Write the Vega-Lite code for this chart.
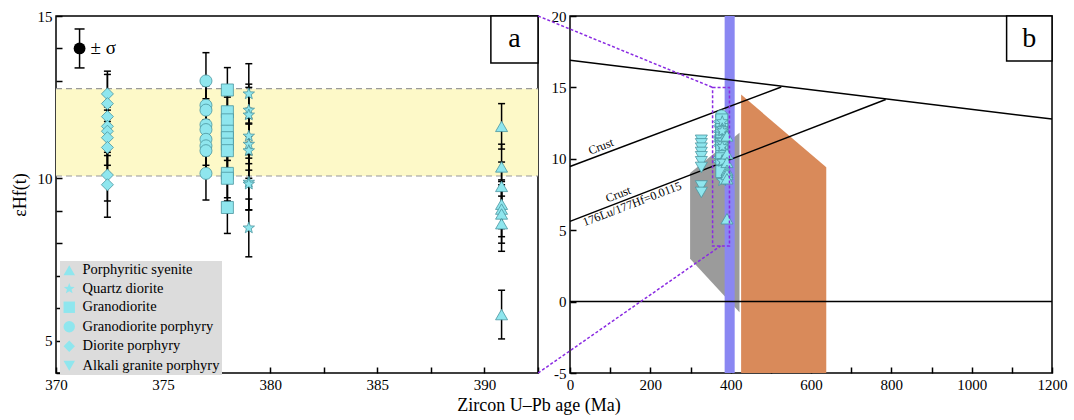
{
  "$schema": "https://vega.github.io/schema/vega-lite/v6.json",
  "background": "white",
  "padding": {"left": 10, "top": 8, "right": 5, "bottom": 5},
  "config": {
    "font": "Liberation Serif",
    "view": {"stroke": "black", "strokeWidth": 1.5},
    "axis": {
      "domain": false, "tickColor": "black", "tickWidth": 1.5, "tickSize": 6, "offset": -6,
      "labelFont": "Liberation Serif", "labelFontSize": 15, "labelColor": "black",
      "titleFont": "Liberation Serif", "titleFontSize": 18, "titleFontWeight": "normal", "titleColor": "black",
      "grid": false, "labelFlush": false, "labelOverlap": false, "labelPadding": 4
    },
    "legend": {
      "labelFont": "Liberation Serif", "labelFontSize": 14.5, "labelColor": "black",
      "symbolFillColor": "#8fe6ee", "symbolStrokeColor": "#4a95a0", "symbolStrokeWidth": 0.8, "symbolSize": 130,
      "fillColor": "#dcdcdc", "padding": 2, "rowPadding": 3.5, "labelOffset": 6
    }
  },
  "datasets": {
    "zircon": [
      {"rock": "Diorite porphyry", "age": 372.4, "ehf": 12.6, "lo": 11.9, "hi": 13.3},
      {"rock": "Diorite porphyry", "age": 372.4, "ehf": 12.3, "lo": 11.4, "hi": 13.2},
      {"rock": "Diorite porphyry", "age": 372.4, "ehf": 11.9, "lo": 11.2, "hi": 12.6},
      {"rock": "Diorite porphyry", "age": 372.4, "ehf": 11.6, "lo": 10.9, "hi": 12.3},
      {"rock": "Diorite porphyry", "age": 372.4, "ehf": 11.45, "lo": 10.7, "hi": 12.2},
      {"rock": "Diorite porphyry", "age": 372.4, "ehf": 11.25, "lo": 10.4, "hi": 12.1},
      {"rock": "Diorite porphyry", "age": 372.4, "ehf": 10.95, "lo": 10.15, "hi": 11.75},
      {"rock": "Diorite porphyry", "age": 372.4, "ehf": 10.1, "lo": 9.3, "hi": 10.9},
      {"rock": "Diorite porphyry", "age": 372.4, "ehf": 9.8, "lo": 8.8, "hi": 10.8},
      {"rock": "Granodiorite porphyry", "age": 377.0, "ehf": 13.0, "lo": 12.13, "hi": 13.87},
      {"rock": "Granodiorite porphyry", "age": 377.0, "ehf": 12.25, "lo": 11.45, "hi": 13.05},
      {"rock": "Granodiorite porphyry", "age": 377.0, "ehf": 12.1, "lo": 11.35, "hi": 12.85},
      {"rock": "Granodiorite porphyry", "age": 377.0, "ehf": 11.65, "lo": 10.85, "hi": 12.45},
      {"rock": "Granodiorite porphyry", "age": 377.0, "ehf": 11.5, "lo": 10.7, "hi": 12.3},
      {"rock": "Granodiorite porphyry", "age": 377.0, "ehf": 11.2, "lo": 10.4, "hi": 12.0},
      {"rock": "Granodiorite porphyry", "age": 377.0, "ehf": 11.0, "lo": 10.2, "hi": 11.8},
      {"rock": "Granodiorite porphyry", "age": 377.0, "ehf": 10.85, "lo": 10.05, "hi": 11.65},
      {"rock": "Granodiorite porphyry", "age": 377.0, "ehf": 10.15, "lo": 9.33, "hi": 10.97},
      {"rock": "Granodiorite", "age": 378.0, "ehf": 12.72, "lo": 12.03, "hi": 13.41},
      {"rock": "Granodiorite", "age": 378.0, "ehf": 12.05, "lo": 11.3, "hi": 12.8},
      {"rock": "Granodiorite", "age": 378.0, "ehf": 11.8, "lo": 11.1, "hi": 12.5},
      {"rock": "Granodiorite", "age": 378.0, "ehf": 11.45, "lo": 10.7, "hi": 12.2},
      {"rock": "Granodiorite", "age": 378.0, "ehf": 11.25, "lo": 10.55, "hi": 11.95},
      {"rock": "Granodiorite", "age": 378.0, "ehf": 11.05, "lo": 10.3, "hi": 11.8},
      {"rock": "Granodiorite", "age": 378.0, "ehf": 10.85, "lo": 10.15, "hi": 11.55},
      {"rock": "Granodiorite", "age": 378.0, "ehf": 10.15, "lo": 9.4, "hi": 10.9},
      {"rock": "Granodiorite", "age": 378.0, "ehf": 10.0, "lo": 9.3, "hi": 10.7},
      {"rock": "Granodiorite", "age": 378.0, "ehf": 9.1, "lo": 8.3, "hi": 9.9},
      {"rock": "Quartz diorite", "age": 379.0, "ehf": 12.6, "lo": 11.67, "hi": 13.53},
      {"rock": "Quartz diorite", "age": 379.0, "ehf": 12.1, "lo": 11.3, "hi": 12.9},
      {"rock": "Quartz diorite", "age": 379.0, "ehf": 11.95, "lo": 11.1, "hi": 12.8},
      {"rock": "Quartz diorite", "age": 379.0, "ehf": 11.3, "lo": 10.45, "hi": 12.15},
      {"rock": "Quartz diorite", "age": 379.0, "ehf": 11.05, "lo": 10.25, "hi": 11.85},
      {"rock": "Quartz diorite", "age": 379.0, "ehf": 10.85, "lo": 10.0, "hi": 11.7},
      {"rock": "Quartz diorite", "age": 379.0, "ehf": 9.88, "lo": 9.03, "hi": 10.73},
      {"rock": "Quartz diorite", "age": 379.0, "ehf": 9.82, "lo": 9.02, "hi": 10.62},
      {"rock": "Quartz diorite", "age": 379.0, "ehf": 8.47, "lo": 7.58, "hi": 9.36},
      {"rock": "Porphyritic syenite", "age": 390.8, "ehf": 11.6, "lo": 10.9, "hi": 12.3},
      {"rock": "Porphyritic syenite", "age": 390.8, "ehf": 10.35, "lo": 9.65, "hi": 11.05},
      {"rock": "Porphyritic syenite", "age": 390.8, "ehf": 9.75, "lo": 9.0, "hi": 10.5},
      {"rock": "Porphyritic syenite", "age": 390.8, "ehf": 9.2, "lo": 8.45, "hi": 9.95},
      {"rock": "Porphyritic syenite", "age": 390.8, "ehf": 9.05, "lo": 8.2, "hi": 9.9},
      {"rock": "Porphyritic syenite", "age": 390.8, "ehf": 8.9, "lo": 8.0, "hi": 9.8},
      {"rock": "Porphyritic syenite", "age": 390.8, "ehf": 8.6, "lo": 7.75, "hi": 9.45},
      {"rock": "Porphyritic syenite", "age": 390.8, "ehf": 5.8, "lo": 5.05, "hi": 6.55},
      {"rock": "Alkali granite porphyry", "age": 327, "ehf": 11.3, "lo": 10.5, "hi": 12.1},
      {"rock": "Alkali granite porphyry", "age": 327, "ehf": 11.05, "lo": 10.25, "hi": 11.85},
      {"rock": "Alkali granite porphyry", "age": 327, "ehf": 10.75, "lo": 9.95, "hi": 11.55},
      {"rock": "Alkali granite porphyry", "age": 327, "ehf": 10.45, "lo": 9.65, "hi": 11.25},
      {"rock": "Alkali granite porphyry", "age": 327, "ehf": 10.15, "lo": 9.35, "hi": 10.95},
      {"rock": "Alkali granite porphyry", "age": 327, "ehf": 9.8, "lo": 9.0, "hi": 10.6},
      {"rock": "Alkali granite porphyry", "age": 327, "ehf": 9.4, "lo": 8.6, "hi": 10.2},
      {"rock": "Alkali granite porphyry", "age": 327, "ehf": 8.1, "lo": 7.3, "hi": 8.9},
      {"rock": "Alkali granite porphyry", "age": 327, "ehf": 7.65, "lo": 6.85, "hi": 8.45}
    ],
    "band": [{"lo": 10.07, "hi": 12.76, "x1": 370, "x2": 392.5}],
    "sigma": [{"age": 371.1, "ehf": 14.0, "lo": 13.4, "hi": 14.6, "label": "± σ"}],
    "tagA": [{"x1": 390.3, "x2": 392.5, "y1": 13.55, "y2": 15, "xc": 391.4, "yc": 14.28, "t": "a"}],
    "tagB": [{"x1": 1087, "x2": 1200, "y1": 16.85, "y2": 20, "xc": 1143.5, "yc": 18.42, "t": "b"}],
    "gray": [{"x": 299, "top": 9.0, "bot": 3.0}, {"x": 422, "top": 11.83, "bot": -0.75}],
    "orange": [{"x": 426, "top": 14.5, "bot": -5}, {"x": 638, "top": 9.4, "bot": -5}],
    "blue": [{"x1": 385, "x2": 410, "y1": -5, "y2": 20}],
    "lines": [
      {"id": "DM", "x": 0, "y": 16.9}, {"id": "DM", "x": 1200, "y": 12.78},
      {"id": "C1", "x": 0, "y": 9.46}, {"id": "C1", "x": 526, "y": 15.03},
      {"id": "C2", "x": 0, "y": 5.62}, {"id": "C2", "x": 786, "y": 14.15},
      {"id": "Z", "x": 0, "y": 0}, {"id": "Z", "x": 1200, "y": 0}
    ],
    "zoombox": [{"x1": 355, "x2": 397, "y1": 3.9, "y2": 15}],
    "connectors": [
      {"id": "top", "x": -79.5, "y": 20}, {"id": "top", "x": 355, "y": 15},
      {"id": "bot", "x": -79.5, "y": -5}, {"id": "bot", "x": 375, "y": 3.9}
    ],
    "notesAbove": [{"x": 84, "y": 10.35, "t": "Crust"}, {"x": 127, "y": 7.0, "t": "Crust"}],
    "notesBelow": [{"x": 149, "y": 7.24, "t": "176Lu/177Hf=0.0115"}]
  },
  "title": {"text": "Zircon U–Pb age (Ma)", "orient": "bottom", "anchor": "middle", "font": "Liberation Serif", "fontSize": 18, "fontWeight": "normal", "color": "black", "offset": 4},
  "spacing": 32,
  "bounds": "flush",
  "hconcat": [
    {
      "width": 482, "height": 357,
      "layer": [
        {
          "data": {"name": "band"},
          "mark": {"type": "rect", "color": "#fdf9c8"},
          "encoding": {
            "x": {"field": "x1", "type": "quantitative", "scale": {"domain": [370, 392.5], "nice": false, "zero": false},
              "axis": {"orient": "bottom", "title": null, "values": [370,372.5,375,377.5,380,382.5,385,387.5,390,392.5], "labelExpr": "datum.value % 5 === 0 ? '' + datum.value : ''"}},
            "x2": {"field": "x2"},
            "y": {"field": "lo", "type": "quantitative", "scale": {"domain": [4, 15], "nice": false, "zero": false},
              "axis": {"orient": "left", "title": "εHf(t)", "values": [4,5,6,7,8,9,10,11,12,13,14,15], "labelExpr": "datum.value % 5 === 0 ? '' + datum.value : ''", "titlePadding": 8}},
            "y2": {"field": "hi"}
          }
        },
        {
          "data": {"name": "band"},
          "mark": {"type": "rule", "color": "#9a9a9a", "strokeDash": [6, 4], "strokeWidth": 1.2},
          "encoding": {
            "x": {"field": "x1", "type": "quantitative",
              "axis": {"orient": "bottom", "title": null, "values": [370,372.5,375,377.5,380,382.5,385,387.5,390,392.5], "labelExpr": "datum.value % 5 === 0 ? '' + datum.value : ''"}},
            "x2": {"field": "x2"},
            "y": {"field": "lo", "type": "quantitative",
              "axis": {"orient": "left", "title": "εHf(t)", "values": [4,5,6,7,8,9,10,11,12,13,14,15], "labelExpr": "datum.value % 5 === 0 ? '' + datum.value : ''", "titlePadding": 8}}}
        },
        {
          "data": {"name": "band"},
          "mark": {"type": "rule", "color": "#9a9a9a", "strokeDash": [6, 4], "strokeWidth": 1.2},
          "encoding": {
            "x": {"field": "x1", "type": "quantitative",
              "axis": {"orient": "bottom", "title": null, "values": [370,372.5,375,377.5,380,382.5,385,387.5,390,392.5], "labelExpr": "datum.value % 5 === 0 ? '' + datum.value : ''"}},
            "x2": {"field": "x2"},
            "y": {"field": "hi", "type": "quantitative",
              "axis": {"orient": "left", "title": "εHf(t)", "values": [4,5,6,7,8,9,10,11,12,13,14,15], "labelExpr": "datum.value % 5 === 0 ? '' + datum.value : ''", "titlePadding": 8}}}
        },
        {
          "data": {"name": "zircon"},
          "transform": [{"filter": "datum.age >= 370"}],
          "mark": {"type": "rule", "color": "black", "strokeWidth": 1.5},
          "encoding": {
            "x": {"field": "age", "type": "quantitative",
              "axis": {"orient": "bottom", "title": null, "values": [370,372.5,375,377.5,380,382.5,385,387.5,390,392.5], "labelExpr": "datum.value % 5 === 0 ? '' + datum.value : ''"}},
            "y": {"field": "lo", "type": "quantitative",
              "axis": {"orient": "left", "title": "εHf(t)", "values": [4,5,6,7,8,9,10,11,12,13,14,15], "labelExpr": "datum.value % 5 === 0 ? '' + datum.value : ''", "titlePadding": 8}},
            "y2": {"field": "hi"}
          }
        },
        {
          "data": {"name": "zircon"},
          "transform": [{"filter": "datum.age >= 370"}],
          "mark": {"type": "tick", "orient": "horizontal", "size": 7, "thickness": 1.5, "color": "black", "opacity": 1},
          "encoding": {
            "x": {"field": "age", "type": "quantitative",
              "axis": {"orient": "bottom", "title": null, "values": [370,372.5,375,377.5,380,382.5,385,387.5,390,392.5], "labelExpr": "datum.value % 5 === 0 ? '' + datum.value : ''"}},
            "y": {"field": "lo", "type": "quantitative",
              "axis": {"orient": "left", "title": "εHf(t)", "values": [4,5,6,7,8,9,10,11,12,13,14,15], "labelExpr": "datum.value % 5 === 0 ? '' + datum.value : ''", "titlePadding": 8}}
          }
        },
        {
          "data": {"name": "zircon"},
          "transform": [{"filter": "datum.age >= 370"}],
          "mark": {"type": "tick", "orient": "horizontal", "size": 7, "thickness": 1.5, "color": "black", "opacity": 1},
          "encoding": {
            "x": {"field": "age", "type": "quantitative",
              "axis": {"orient": "bottom", "title": null, "values": [370,372.5,375,377.5,380,382.5,385,387.5,390,392.5], "labelExpr": "datum.value % 5 === 0 ? '' + datum.value : ''"}},
            "y": {"field": "hi", "type": "quantitative",
              "axis": {"orient": "left", "title": "εHf(t)", "values": [4,5,6,7,8,9,10,11,12,13,14,15], "labelExpr": "datum.value % 5 === 0 ? '' + datum.value : ''", "titlePadding": 8}}
          }
        },
        {
          "data": {"name": "zircon"},
          "transform": [{"filter": "datum.age >= 370"}],
          "mark": {"type": "point", "filled": true, "fill": "#8fe6ee", "stroke": "#4a95a0", "strokeWidth": 0.8, "size": 145, "opacity": 1},
          "encoding": {
            "x": {"field": "age", "type": "quantitative",
              "axis": {"orient": "bottom", "title": null, "values": [370,372.5,375,377.5,380,382.5,385,387.5,390,392.5], "labelExpr": "datum.value % 5 === 0 ? '' + datum.value : ''"}},
            "y": {"field": "ehf", "type": "quantitative",
              "axis": {"orient": "left", "title": "εHf(t)", "values": [4,5,6,7,8,9,10,11,12,13,14,15], "labelExpr": "datum.value % 5 === 0 ? '' + datum.value : ''", "titlePadding": 8}},
            "shape": {"field": "rock", "type": "nominal",
              "scale": {"domain": ["Porphyritic syenite", "Quartz diorite", "Granodiorite", "Granodiorite porphyry", "Diorite porphyry", "Alkali granite porphyry"],
                "range": ["triangle-up", "M0,-1L0.247,-0.34L0.951,-0.309L0.4,0.13L0.588,0.809L0,0.42L-0.588,0.809L-0.4,0.13L-0.951,-0.309L-0.247,-0.34Z", "square", "circle", "diamond", "triangle-down"]},
              "legend": {"title": null, "orient": "none", "legendX": 4, "legendY": 245}}
          }
        },
        {
          "data": {"name": "sigma"},
          "mark": {"type": "rule", "color": "black", "strokeWidth": 1.5},
          "encoding": {
            "x": {"field": "age", "type": "quantitative",
              "axis": {"orient": "bottom", "title": null, "values": [370,372.5,375,377.5,380,382.5,385,387.5,390,392.5], "labelExpr": "datum.value % 5 === 0 ? '' + datum.value : ''"}},
            "y": {"field": "lo", "type": "quantitative",
              "axis": {"orient": "left", "title": "εHf(t)", "values": [4,5,6,7,8,9,10,11,12,13,14,15], "labelExpr": "datum.value % 5 === 0 ? '' + datum.value : ''", "titlePadding": 8}},
            "y2": {"field": "hi"}
          }
        },
        {
          "data": {"name": "sigma"},
          "mark": {"type": "tick", "orient": "horizontal", "size": 10, "thickness": 1.5, "color": "black", "opacity": 1},
          "encoding": {
            "x": {"field": "age", "type": "quantitative",
              "axis": {"orient": "bottom", "title": null, "values": [370,372.5,375,377.5,380,382.5,385,387.5,390,392.5], "labelExpr": "datum.value % 5 === 0 ? '' + datum.value : ''"}},
            "y": {"field": "lo", "type": "quantitative",
              "axis": {"orient": "left", "title": "εHf(t)", "values": [4,5,6,7,8,9,10,11,12,13,14,15], "labelExpr": "datum.value % 5 === 0 ? '' + datum.value : ''", "titlePadding": 8}}
          }
        },
        {
          "data": {"name": "sigma"},
          "mark": {"type": "tick", "orient": "horizontal", "size": 10, "thickness": 1.5, "color": "black", "opacity": 1},
          "encoding": {
            "x": {"field": "age", "type": "quantitative",
              "axis": {"orient": "bottom", "title": null, "values": [370,372.5,375,377.5,380,382.5,385,387.5,390,392.5], "labelExpr": "datum.value % 5 === 0 ? '' + datum.value : ''"}},
            "y": {"field": "hi", "type": "quantitative",
              "axis": {"orient": "left", "title": "εHf(t)", "values": [4,5,6,7,8,9,10,11,12,13,14,15], "labelExpr": "datum.value % 5 === 0 ? '' + datum.value : ''", "titlePadding": 8}}
          }
        },
        {
          "data": {"name": "sigma"},
          "mark": {"type": "point", "filled": true, "color": "black", "size": 140, "opacity": 1},
          "encoding": {
            "x": {"field": "age", "type": "quantitative",
              "axis": {"orient": "bottom", "title": null, "values": [370,372.5,375,377.5,380,382.5,385,387.5,390,392.5], "labelExpr": "datum.value % 5 === 0 ? '' + datum.value : ''"}},
            "y": {"field": "ehf", "type": "quantitative",
              "axis": {"orient": "left", "title": "εHf(t)", "values": [4,5,6,7,8,9,10,11,12,13,14,15], "labelExpr": "datum.value % 5 === 0 ? '' + datum.value : ''", "titlePadding": 8}}
          }
        },
        {
          "data": {"name": "sigma"},
          "mark": {"type": "text", "align": "left", "baseline": "middle", "fontSize": 19, "font": "Liberation Serif", "color": "black", "dx": 11},
          "encoding": {
            "x": {"field": "age", "type": "quantitative",
              "axis": {"orient": "bottom", "title": null, "values": [370,372.5,375,377.5,380,382.5,385,387.5,390,392.5], "labelExpr": "datum.value % 5 === 0 ? '' + datum.value : ''"}},
            "y": {"field": "ehf", "type": "quantitative",
              "axis": {"orient": "left", "title": "εHf(t)", "values": [4,5,6,7,8,9,10,11,12,13,14,15], "labelExpr": "datum.value % 5 === 0 ? '' + datum.value : ''", "titlePadding": 8}},
            "text": {"field": "label"}
          }
        },
        {
          "data": {"name": "tagA"},
          "mark": {"type": "rect", "fill": "white", "stroke": "black", "strokeWidth": 1.5},
          "encoding": {
            "x": {"field": "x1", "type": "quantitative",
              "axis": {"orient": "bottom", "title": null, "values": [370,372.5,375,377.5,380,382.5,385,387.5,390,392.5], "labelExpr": "datum.value % 5 === 0 ? '' + datum.value : ''"}},
            "x2": {"field": "x2"},
            "y": {"field": "y1", "type": "quantitative",
              "axis": {"orient": "left", "title": "εHf(t)", "values": [4,5,6,7,8,9,10,11,12,13,14,15], "labelExpr": "datum.value % 5 === 0 ? '' + datum.value : ''", "titlePadding": 8}},
            "y2": {"field": "y2"}
          }
        },
        {
          "data": {"name": "tagA"},
          "mark": {"type": "text", "fontSize": 28, "font": "Liberation Serif", "color": "black", "baseline": "middle", "align": "center"},
          "encoding": {
            "x": {"field": "xc", "type": "quantitative",
              "axis": {"orient": "bottom", "title": null, "values": [370,372.5,375,377.5,380,382.5,385,387.5,390,392.5], "labelExpr": "datum.value % 5 === 0 ? '' + datum.value : ''"}},
            "y": {"field": "yc", "type": "quantitative",
              "axis": {"orient": "left", "title": "εHf(t)", "values": [4,5,6,7,8,9,10,11,12,13,14,15], "labelExpr": "datum.value % 5 === 0 ? '' + datum.value : ''", "titlePadding": 8}},
            "text": {"field": "t"}
          }
        }
      ]
    },
    {
      "width": 482, "height": 357,
      "layer": [
        {
          "data": {"name": "gray"},
          "mark": {"type": "area", "color": "#9b9b9b", "opacity": 1},
          "encoding": {
            "x": {"field": "x", "type": "quantitative", "scale": {"domain": [0, 1200], "nice": false, "zero": false},
              "axis": {"orient": "bottom", "title": null, "values": [0,100,200,300,400,500,600,700,800,900,1000,1100,1200], "labelExpr": "datum.value % 200 === 0 ? '' + datum.value : ''"}},
            "y": {"field": "top", "type": "quantitative", "scale": {"domain": [-5, 20], "nice": false, "zero": false},
              "axis": {"orient": "left", "title": null, "values": [-5,-2.5,0,2.5,5,7.5,10,12.5,15,17.5,20], "labelExpr": "datum.value % 5 === 0 ? '' + datum.value : ''"}},
            "y2": {"field": "bot"}
          }
        },
        {
          "data": {"name": "orange"},
          "mark": {"type": "area", "color": "#d98a5a", "opacity": 1},
          "encoding": {
            "x": {"field": "x", "type": "quantitative"},
            "y": {"field": "top", "type": "quantitative"},
            "y2": {"field": "bot"}
          }
        },
        {
          "data": {"name": "blue"},
          "mark": {"type": "rect", "color": "#8a87f2", "opacity": 1},
          "encoding": {
            "x": {"field": "x1", "type": "quantitative"}, "x2": {"field": "x2"},
            "y": {"field": "y1", "type": "quantitative"}, "y2": {"field": "y2"}
          }
        },
        {
          "data": {"name": "lines"},
          "mark": {"type": "line", "color": "black", "strokeWidth": 1.5},
          "encoding": {
            "x": {"field": "x", "type": "quantitative"},
            "y": {"field": "y", "type": "quantitative"},
            "detail": {"field": "id"}
          }
        },
        {
          "data": {"name": "notesAbove"},
          "mark": {"type": "text", "angle": -21, "align": "center", "baseline": "bottom", "dy": -1, "fontSize": 12, "font": "Liberation Serif", "color": "black"},
          "encoding": {
            "x": {"field": "x", "type": "quantitative"},
            "y": {"field": "y", "type": "quantitative"},
            "text": {"field": "t"}
          }
        },
        {
          "data": {"name": "notesBelow"},
          "mark": {"type": "text", "angle": -21, "align": "center", "baseline": "top", "dy": 1, "fontSize": 12, "font": "Liberation Serif", "color": "black"},
          "encoding": {
            "x": {"field": "x", "type": "quantitative"},
            "y": {"field": "y", "type": "quantitative"},
            "text": {"field": "t"}
          }
        },
        {
          "data": {"name": "zircon"},
          "mark": {"type": "point", "filled": true, "fill": "#8fe6ee", "stroke": "#4a95a0", "strokeWidth": 0.8, "size": 145, "opacity": 1},
          "encoding": {
            "x": {"field": "age", "type": "quantitative"},
            "y": {"field": "ehf", "type": "quantitative"},
            "shape": {"field": "rock", "type": "nominal", "legend": null}
          }
        },
        {
          "data": {"name": "zoombox"},
          "mark": {"type": "rect", "fillOpacity": 0, "stroke": "#8a2be2", "strokeWidth": 1.5, "strokeDash": [3, 2]},
          "encoding": {
            "x": {"field": "x1", "type": "quantitative"}, "x2": {"field": "x2"},
            "y": {"field": "y1", "type": "quantitative"}, "y2": {"field": "y2"}
          }
        },
        {
          "data": {"name": "connectors"},
          "mark": {"type": "line", "color": "#8a2be2", "strokeWidth": 1.5, "strokeDash": [3, 2]},
          "encoding": {
            "x": {"field": "x", "type": "quantitative"},
            "y": {"field": "y", "type": "quantitative"},
            "detail": {"field": "id"}
          }
        },
        {
          "data": {"name": "tagB"},
          "mark": {"type": "rect", "fill": "white", "stroke": "black", "strokeWidth": 1.5},
          "encoding": {
            "x": {"field": "x1", "type": "quantitative"}, "x2": {"field": "x2"},
            "y": {"field": "y1", "type": "quantitative"}, "y2": {"field": "y2"}
          }
        },
        {
          "data": {"name": "tagB"},
          "mark": {"type": "text", "fontSize": 28, "font": "Liberation Serif", "color": "black", "baseline": "middle", "align": "center"},
          "encoding": {
            "x": {"field": "xc", "type": "quantitative"},
            "y": {"field": "yc", "type": "quantitative"},
            "text": {"field": "t"}
          }
        }
      ]
    }
  ]
}
